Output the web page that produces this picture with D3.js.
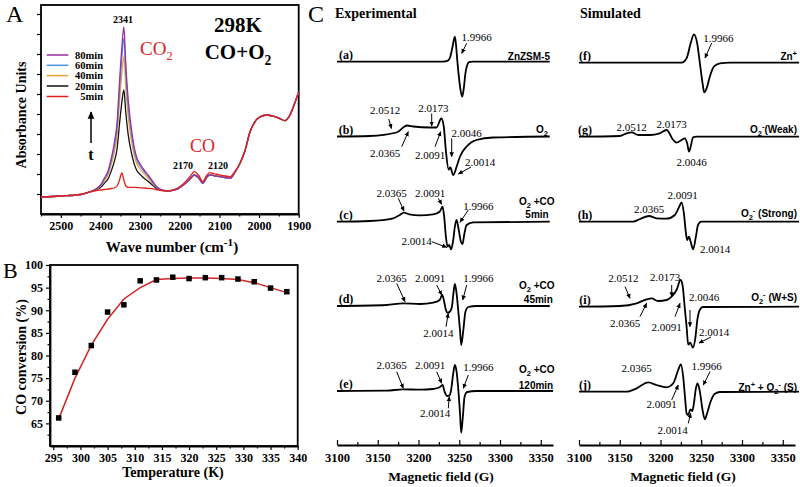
<!DOCTYPE html>
<html><head><meta charset="utf-8">
<script src="https://cdn.jsdelivr.net/npm/d3@7"></script>
<style>body{margin:0;background:#fff}svg{display:block}</style>
</head><body>
<script>
// ---------------- DATA ----------------
// Panel A: IR spectra (arbitrary absorbance units)
const wavenumbers = [2550,2500,2450,2425,2410,2400,2390,2380,2372,2365,2358,2352,2346,2341,2336,2330,2322,2315,2308,2300,2290,2280,2270,2260,2250,2240,2230,2215,2205,2190,2175,2163,2152,2142,2133,2125,2112,2098,2085,2073,2060,2048,2035,2023,2015,2002,1981,1960,1945,1935,1922,1910,1900];
const abs80min = [0.17,0.18,0.195,0.223,0.255,0.29,0.36,0.44,0.57,0.71,0.92,1.315,1.67,1.87,1.49,1.14,0.85,0.67,0.56,0.50,0.44,0.39,0.335,0.28,0.25,0.237,0.23,0.24,0.252,0.292,0.345,0.39,0.36,0.307,0.36,0.39,0.382,0.373,0.365,0.357,0.423,0.507,0.64,0.82,0.89,0.96,0.99,0.973,0.95,0.933,0.99,1.11,1.22];
const abs60min = [0.17,0.18,0.195,0.223,0.253,0.285,0.35,0.425,0.545,0.675,0.87,1.24,1.57,1.755,1.40,1.075,0.805,0.64,0.537,0.48,0.425,0.38,0.327,0.276,0.248,0.236,0.23,0.24,0.252,0.292,0.345,0.39,0.36,0.307,0.36,0.39,0.382,0.373,0.365,0.357,0.423,0.507,0.64,0.82,0.89,0.96,0.99,0.973,0.95,0.933,0.99,1.11,1.22];
const abs40min = [0.17,0.18,0.195,0.223,0.25,0.278,0.336,0.401,0.508,0.623,0.795,1.12,1.41,1.574,1.262,0.975,0.737,0.59,0.50,0.45,0.401,0.36,0.315,0.27,0.245,0.235,0.23,0.24,0.252,0.292,0.345,0.39,0.36,0.307,0.36,0.39,0.382,0.373,0.365,0.357,0.423,0.507,0.64,0.82,0.89,0.96,0.99,0.973,0.95,0.933,0.99,1.11,1.22];
const abs20min = [0.17,0.18,0.195,0.223,0.244,0.265,0.309,0.358,0.439,0.526,0.656,0.90,1.12,1.24,1.01,0.792,0.613,0.501,0.433,0.396,0.358,0.327,0.293,0.259,0.24,0.232,0.228,0.24,0.252,0.292,0.345,0.39,0.36,0.307,0.36,0.39,0.382,0.373,0.365,0.357,0.423,0.507,0.64,0.82,0.89,0.96,0.99,0.973,0.95,0.933,0.99,1.11,1.22];
const abs5min = [0.17,0.18,0.195,0.223,0.235,0.24,0.245,0.25,0.255,0.26,0.28,0.34,0.41,0.34,0.28,0.267,0.267,0.267,0.265,0.262,0.26,0.257,0.253,0.245,0.237,0.233,0.23,0.245,0.26,0.305,0.37,0.423,0.385,0.323,0.38,0.413,0.402,0.39,0.38,0.373,0.43,0.507,0.64,0.82,0.89,0.96,0.99,0.973,0.95,0.933,0.99,1.11,1.22];
const seriesLabels = ['80min','60min','40min','20min','5min'];
const xTicksA = [2500,2400,2300,2200,2100,2000,1900];

// Panel B: CO conversion vs temperature
const temperatures = [296,299,302,305,308,311,314,317,320,323,326,329,332,335,338];
const conversion = [66.2,76.3,82.2,89.6,91.2,96.5,96.7,97.3,97.0,97.2,97.2,96.9,96.3,94.9,94.1];
const fitConversion = [66,75,82.3,88,92.5,95,96.8,97,97.1,97.1,97,96.8,96.1,95,93.9];
const xTicksB = [295,300,305,310,315,320,325,330,335,340];
const yTicksB = [65,70,75,80,85,90,95,100];

// Panel C: EPR spectra (field in G, intensity arbitrary)
const xTicksC = [3100,3150,3200,3250,3300,3350];
const fieldA = [3100,3230,3236,3239,3241.5,3244.6,3246,3247.5,3249.5,3251.5,3253.6,3255.5,3257.5,3259.5,3262,3266,3361];
const intA   = [0,0,1,5,14,25,17,2,-15,-28,-35,-27,-12,-4,-0.5,0,0];
const fieldB = [3100,3140,3173,3186,3193.5,3214,3222,3228,3231,3233.5,3237,3239,3242.6,3246.8,3250.9,3259,3271,3291.5,3361];
const intB   = [0,0.5,4,11,10,9,9,18,10,-13.5,-33,-31,-38.5,-30,-20,-10,-3.5,-1,0];
const fieldC = [3100,3140,3169,3177,3182,3188.6,3201.7,3218,3226,3229.5,3231.5,3233.6,3235.7,3237.6,3240,3242.6,3244.6,3246.7,3249,3252,3254,3256,3259,3267,3361];
const intC   = [0,0.7,3.4,6.7,9,7.4,6.4,7.4,10,15,5,-15,-25,-23.3,-27.6,-18.3,-5,1.7,-6.6,-20,-22.3,-13.3,-3.3,-0.6,0];
const fieldD = [3100,3161,3181,3202,3218,3226,3229,3231.5,3233.6,3235.7,3238.5,3241,3242.6,3244.6,3246.7,3248.7,3250.9,3252.4,3255,3257.5,3261,3271,3361];
const intD   = [0,1,2.7,2,3.3,6,11,4.3,-4,-6.7,-5.7,-0.7,11,22,12.7,-4,-24,-39,-24,-6,-1,0,0];
const fieldE = [3100,3161,3181,3202,3218,3226,3229.5,3232,3235,3237.6,3240,3242.6,3244.6,3246.7,3248.7,3250.9,3252.4,3254.4,3256.5,3259.7,3271,3365];
const intE   = [0,0.3,1.7,1.3,2,3.7,6,-0.7,-5,-4.7,1,17.7,26,19.3,2.7,-22.3,-41.7,-25.7,-5.7,-1,0,0];
const fieldF = [3100,3225.8,3232,3237,3241,3245,3248.3,3251.6,3253.6,3256.5,3260.5,3265.4,3272.8,3285,3370];
const intF   = [0,0,4.4,19.4,28.4,19.4,-0.6,-20.6,-29.6,-25.6,-14,-4,-0.6,0,0];
const fieldG = [3100,3150,3158.5,3164.6,3172.7,3187,3199,3207.5,3215.6,3219.7,3225.8,3230,3232.7,3235,3237,3240,3244,3370];
const intG   = [0,0.7,3.4,4.4,1.7,1.7,3.4,6.7,-3.3,-6,-3.3,-1.6,-6.6,-15,-10,-0.6,0,0];
const fieldH = [3100,3166.6,3174.8,3186,3195,3207.5,3217.6,3223,3225.8,3228.7,3231,3232.7,3234.8,3237,3240,3243.4,3246,3250,3370];
const intH   = [0,0,2.7,5.7,3.4,3,6.7,15,19.4,8.4,-10,-18.3,-15,-20,-27.6,-15,-3.3,0,0];
const fieldI = [3100,3150,3170.7,3183,3189,3197,3207.5,3213.6,3219.7,3224.6,3227,3230,3232,3234,3236.5,3239.7,3242.8,3245.2,3248.3,3252,3370];
const intI   = [0,0.7,3.4,7.4,8.4,5.7,6.7,10,16.7,26.7,21.7,-3.3,-20,-38,-36,-41,-31,-13,-3,-0.3,0];
const fieldJ = [3100,3158.5,3170.7,3185,3195,3207.5,3215.6,3221.7,3225,3227.8,3230,3232,3234,3236.5,3239,3241,3243.4,3245.5,3248.3,3251.6,3254.4,3257.2,3261.4,3266.7,3272.8,3370];
const intJ   = [0,0,3.4,9.4,6.7,4.4,8.4,21.7,27.4,15,-5,-21.6,-23.3,-17.6,-19.3,-11.6,3.4,8.4,0,-18.3,-27.6,-21.6,-10,-2,-0.3,0];

// ---------------- DRAWING ----------------
const serif = '"Liberation Serif","Times New Roman",serif';
const sans = '"Liberation Sans",Arial,sans-serif';
const fmt = d3.format('d');
const svg = d3.select('body').append('svg').attr('width',800).attr('height',487);
svg.append('rect').attr('width',800).attr('height',487).attr('fill','#fff');
const defs = svg.append('defs');
defs.append('marker').attr('id','ah').attr('viewBox','0 0 10 10').attr('refX',9).attr('refY',5)
  .attr('markerWidth',5).attr('markerHeight',5).attr('orient','auto')
  .append('path').attr('d','M0,0.5L10,5L0,9.5z').attr('fill','#000');

function rich(g, x, y, parts, o={}) {
  const fs = o.size||11;
  const t = g.append('text').attr('x',x).attr('y',y)
    .attr('text-anchor',o.anchor||'start').attr('font-family',o.family||serif)
    .attr('font-weight',o.weight||'bold').attr('font-size',fs).attr('fill',o.fill||'#000');
  let shift = 0;
  parts.forEach(p => {
    const [s,k] = Array.isArray(p) ? p : [p,null];
    const target = k==='sub' ? fs*0.3 : k==='sup' ? -fs*0.4 : 0;
    const ts = t.append('tspan').text(s);
    if (target-shift !== 0) ts.attr('dy', target-shift);
    if (k) ts.attr('font-size', fs*(o.scriptScale||0.65));
    shift = target;
  });
  return t;
}
function styleAxis(g, fs) {
  g.selectAll('text').attr('font-family',serif).attr('font-weight','bold').attr('font-size',fs).attr('fill','#000');
  g.selectAll('line').attr('stroke','#000').attr('stroke-width',1.2);
  g.select('.domain').attr('stroke','#000').attr('stroke-width',1.8);
}
function arrow(g, a, w) {
  g.append('line').attr('x1',a[0]).attr('y1',a[1]).attr('x2',a[2]).attr('y2',a[3])
    .attr('stroke','#000').attr('stroke-width',w||1).attr('marker-end','url(#ah)');
}

// ===== Panel A =====
const xA = d3.scaleLinear().domain([2550,1900]).range([41,298.7]);
const yA = d3.scaleLinear().domain([0,2.09]).range([214,5]);
const gA = svg.append('g');
gA.append('g').attr('transform','translate(0,214)')
  .call(d3.axisBottom(xA).tickValues(xTicksA).tickFormat(fmt).tickSize(4).tickSizeOuter(0).tickPadding(3))
  .call(g=>styleAxis(g,12));
gA.append('g').attr('transform','translate(0,214)')
  .call(d3.axisBottom(xA).tickValues(d3.range(2550,1900,-50).filter(v=>v%100!==0)).tickSize(2.5).tickFormat(''))
  .call(g=>{styleAxis(g,12); g.select('.domain').remove();});
gA.append('g').attr('transform','translate(41,0)')
  .call(d3.axisLeft(yA).tickValues(d3.range(0.2,2.05,0.2)).tickSize(4).tickFormat('').tickSizeOuter(0))
  .call(g=>{styleAxis(g,12); g.select('.domain').remove();});
gA.append('rect').attr('x',41).attr('y',5).attr('width',257.7).attr('height',209)
  .attr('fill','none').attr('stroke','#000').attr('stroke-width',1.8);

const lineA = d3.line().x((d,i)=>xA(wavenumbers[i])).y(d=>yA(d)).curve(d3.curveMonotoneX);
const specA = [
  {name:'20min', vals:abs20min, color:'#111111'},
  {name:'40min', vals:abs40min, color:'#e9a43a'},
  {name:'60min', vals:abs60min, color:'#4b93dc'},
  {name:'80min', vals:abs80min, color:'#9a2f9c'},
  {name:'5min',  vals:abs5min,  color:'#e0221c'}
];
specA.forEach(s => gA.append('path').attr('d',lineA(s.vals)).attr('fill','none')
  .attr('stroke',s.color).attr('stroke-width',1.3));

// legend
const legY = [55,65.3,75.6,86,96.5];
seriesLabels.forEach((lab,i) => {
  const s = specA.find(d=>d.name===lab);
  gA.append('line').attr('x1',46.7).attr('x2',68.3).attr('y1',legY[i]).attr('y2',legY[i])
    .attr('stroke',s.color).attr('stroke-width',1.5);
  rich(gA,103,legY[i]+3.6,[lab],{anchor:'end',size:10.5});
});
rich(gA,123,22.5,['2341'],{anchor:'middle',size:10});
rich(gA,140,54.5,['CO',['2','sub']],{size:19,weight:'normal',fill:'#e0221c'});
rich(gA,238,31.5,['298K'],{anchor:'middle',size:21});
rich(gA,238,59,['CO+O',['2','sub']],{anchor:'middle',size:21});
rich(gA,190,151.5,['CO'],{size:18,weight:'normal',fill:'#e0221c'});
rich(gA,183,168.5,['2170'],{anchor:'middle',size:10});
rich(gA,218,168.5,['2120'],{anchor:'middle',size:10});
arrow(gA,[91,143,91,112],1.5);
rich(gA,91,160,['t'],{anchor:'middle',size:16});
rich(gA,172,252,['Wave number (cm',['-1','sup'],')'],{anchor:'middle',size:15,scriptScale:0.75});
rich(gA,0,0,['Absorbance  Units'],{anchor:'middle',size:14}).attr('transform','translate(26,115) rotate(-90)');
rich(gA,6,21.5,['A'],{size:24,weight:'normal'});

// ===== Panel B =====
const xB = d3.scaleLinear().domain([294.4,340]).range([50,297.7]);
const yB = d3.scaleLinear().domain([60,100]).range([446,265]);
const gB = svg.append('g');
gB.append('g').attr('transform','translate(0,446)')
  .call(d3.axisBottom(xB).tickValues(xTicksB).tickFormat(fmt).tickSize(4).tickSizeOuter(0).tickPadding(3))
  .call(g=>styleAxis(g,12));
gB.append('g').attr('transform','translate(0,446)')
  .call(d3.axisBottom(xB).tickValues(d3.range(297.5,340,5)).tickSize(2.5).tickFormat(''))
  .call(g=>{styleAxis(g,12); g.select('.domain').remove();});
gB.append('g').attr('transform','translate(50,0)')
  .call(d3.axisLeft(yB).tickValues(yTicksB).tickFormat(fmt).tickSize(4).tickSizeOuter(0).tickPadding(3))
  .call(g=>styleAxis(g,12));
gB.append('g').attr('transform','translate(50,0)')
  .call(d3.axisLeft(yB).tickValues(d3.range(62.5,100,5)).tickSize(2.5).tickFormat(''))
  .call(g=>{styleAxis(g,12); g.select('.domain').remove();});
gB.append('rect').attr('x',50).attr('y',265).attr('width',247.7).attr('height',181)
  .attr('fill','none').attr('stroke','#000').attr('stroke-width',1.8);
gB.append('path').attr('d',d3.line().x((d,i)=>xB(temperatures[i])).y(d=>yB(d))(fitConversion))
  .attr('fill','none').attr('stroke','#d42323').attr('stroke-width',1.5);
gB.selectAll('rect.pt').data(conversion).enter().append('rect').attr('class','pt')
  .attr('x',(d,i)=>xB(temperatures[i])-2.75).attr('y',d=>yB(d)-2.75).attr('width',5.5).attr('height',5.5).attr('fill','#000');
rich(gB,173,477,['Temperature (K)'],{anchor:'middle',size:14});
rich(gB,0,0,['CO conversion (%)'],{anchor:'middle',size:14}).attr('transform','translate(26,357) rotate(-90)');
rich(gB,3,277.5,['B'],{size:22,weight:'normal'});

// ===== Panel C =====
const xE = d3.scaleLinear().domain([3100,3365]).range([337,553]);
const xS = d3.scaleLinear().domain([3100,3365]).range([579,795]);
const yC = d3.scaleLinear().domain([-50,50]).range([50,-50]);
const gC = svg.append('g');
[[xE,441],[xS,683]].forEach(([sc,cx]) => {
  gC.append('g').attr('transform','translate(0,445)')
    .call(d3.axisBottom(sc).tickValues(xTicksC).tickFormat(fmt).tickSize(-5).tickSizeOuter(0).tickPadding(8))
    .call(g=>styleAxis(g,12.5));
  gC.append('g').attr('transform','translate(0,445)')
    .call(d3.axisBottom(sc).tickValues(d3.range(3125,3365,50)).tickSize(-3).tickFormat(''))
    .call(g=>{styleAxis(g,12.5); g.select('.domain').remove();});
  rich(gC,cx,481,['Magnetic field (G)'],{anchor:'middle',size:13.5});
});
rich(gC,308,22,['C'],{size:24,weight:'normal'});
rich(gC,335,18,['Experimental'],{size:14});
rich(gC,580,18,['Simulated'],{size:14});

const rowsExp = [61.7,136.5,221.7,306,391];
const rowsSim = [62.7,136.7,221.7,306.7,391.7];
const traces = [
  {lab:'(a)',f:fieldA,v:intA,sc:xE,y:rowsExp[0]},
  {lab:'(b)',f:fieldB,v:intB,sc:xE,y:rowsExp[1]},
  {lab:'(c)',f:fieldC,v:intC,sc:xE,y:rowsExp[2]},
  {lab:'(d)',f:fieldD,v:intD,sc:xE,y:rowsExp[3]},
  {lab:'(e)',f:fieldE,v:intE,sc:xE,y:rowsExp[4]},
  {lab:'(f)',f:fieldF,v:intF,sc:xS,y:rowsSim[0]},
  {lab:'(g)',f:fieldG,v:intG,sc:xS,y:rowsSim[1]},
  {lab:'(h)',f:fieldH,v:intH,sc:xS,y:rowsSim[2]},
  {lab:'(i)',f:fieldI,v:intI,sc:xS,y:rowsSim[3]},
  {lab:'(j)',f:fieldJ,v:intJ,sc:xS,y:rowsSim[4]}
];
traces.forEach(t => {
  const g = gC.append('g').attr('transform',`translate(0,${t.y})`);
  const ln = d3.line().x((d,i)=>t.sc(t.f[i])).y(d=>yC(d)).curve(d3.curveMonotoneX);
  g.append('path').attr('d',ln(t.v)).attr('fill','none').attr('stroke','#000').attr('stroke-width',1.8);
  rich(gC, t.sc===xE ? 346 : 585, t.y-3, [t.lab], {anchor:'middle',size:12});
});

// annotations (text center x,y ; arrow from -> to)
const annotations = [
  {t:'1.9966',x:476.7,y:36.7,a:[466.7,43.3,461.7,53.3]},
  {t:'2.0512',x:385,y:110,a:[388.7,119,391.5,128.5]},
  {t:'2.0173',x:433.3,y:108.3,a:[431.7,113.5,431.7,126]},
  {t:'2.0365',x:385,y:153.3,a:[401.7,146.7,408.3,131.7]},
  {t:'2.0091',x:430,y:155,a:[435,146.7,440.7,131.7]},
  {t:'2.0046',x:466.7,y:132.7,a:[451.7,138.3,451.7,156.7]},
  {t:'2.0014',x:480,y:161.7,a:[471,167,458.3,174]},
  {t:'2.0365',x:391.7,y:193.3,a:[398.3,198.3,404,211]},
  {t:'2.0091',x:430,y:193.3,a:[438.3,198.3,441.7,204.3]},
  {t:'1.9966',x:478.3,y:206,a:[468.3,210,460,222.3]},
  {t:'2.0014',x:416.7,y:240.7,a:[431.7,241.7,446.7,247.3]},
  {t:'2.0365',x:391.7,y:277.7,a:[396.7,283.3,405,301.7]},
  {t:'2.0091',x:430,y:277.7,a:[436.7,285,441.7,295]},
  {t:'1.9966',x:478.3,y:277.7,a:[466.7,285,462.7,300]},
  {t:'2.0014',x:438.3,y:333.3,a:[446,326.7,448.3,313.3]},
  {t:'2.0365',x:391.7,y:365,a:[396.7,371.7,403.3,388.3]},
  {t:'2.0091',x:430,y:365,a:[436.7,371.7,441.7,383.3]},
  {t:'1.9966',x:478.3,y:366.7,a:[468.3,375,463.3,388.3]},
  {t:'2.0014',x:435,y:413.3,a:[448.3,408.3,449.3,396.7]},
  {t:'1.9966',x:718.3,y:38.3,a:[711.7,43,705,58]},
  {t:'2.0512',x:631.7,y:126.7},
  {t:'2.0173',x:671.7,y:124.3},
  {t:'2.0046',x:691.7,y:161.7},
  {t:'2.0091',x:682.5,y:195},
  {t:'2.0365',x:649,y:209.3},
  {t:'2.0014',x:715,y:249.3},
  {t:'2.0512',x:623.3,y:278.3,a:[625,286.7,630,298.3]},
  {t:'2.0173',x:665,y:276.7,a:[671.7,285,671.7,296.7]},
  {t:'2.0365',x:625,y:323.3,a:[640,316.7,646.7,303.3]},
  {t:'2.0091',x:666.7,y:326.7,a:[675,316.7,680,303.3]},
  {t:'2.0046',x:704,y:296.7,a:[690,310,690,326.7]},
  {t:'2.0014',x:714,y:331.7,a:[711,337,699,343]},
  {t:'2.0365',x:636.7,y:368.3},
  {t:'1.9966',x:706.7,y:366,a:[710,371.7,703.3,385]},
  {t:'2.0091',x:661.7,y:404,a:[671.7,400,678.3,385]},
  {t:'2.0014',x:672.7,y:430,a:[688.3,423.3,690.7,413.3]}
];
annotations.forEach(an => {
  rich(gC, an.x, an.y+3.8, [an.t], {anchor:'middle',size:11,weight:'normal'});
  if (an.a) arrow(gC, an.a, 1);
});

// sample labels
const sOpt = (a)=>({anchor:a,family:sans,size:10,scriptScale:0.75});
rich(gC,550,60,['ZnZSM-5'],sOpt('end'));
rich(gC,548,133,['O',['2','sub']],sOpt('end'));
rich(gC,536.7,205.4,['O',['2','sub'],' +CO'],sOpt('middle'));
rich(gC,537,218,['5min'],sOpt('middle'));
rich(gC,536.7,288.7,['O',['2','sub'],' +CO'],sOpt('middle'));
rich(gC,538.3,303,['45min'],sOpt('middle'));
rich(gC,536.7,373,['O',['2','sub'],' +CO'],sOpt('middle'));
rich(gC,536,389.4,['120min'],sOpt('middle'));
rich(gC,797,60,['Zn',['+','sup']],sOpt('end'));
rich(gC,797,133,['O',['2','sub'],['-','sup'],'(Weak)'],sOpt('end'));
rich(gC,797,216.5,['O',['2','sub'],['-','sup'],' (Strong)'],sOpt('end'));
rich(gC,797,300.5,['O',['2','sub'],['-','sup'],' (W+S)'],sOpt('end'));
rich(gC,797,391,['Zn',['+','sup'],'  + O',['2','sub'],['-','sup'],' (S)'],sOpt('end'));
</script>
</body></html>
